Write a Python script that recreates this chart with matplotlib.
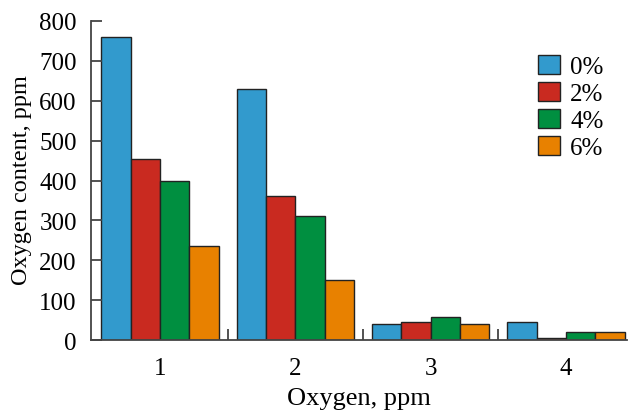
import matplotlib
matplotlib.use("Agg")
import matplotlib.pyplot as plt
import numpy as np

groups = ["1", "2", "3", "4"]
series_labels = ["0%", "2%", "4%", "6%"]
values = {
    "0%": [760, 630, 40, 45],
    "2%": [455, 360, 45, 6],
    "4%": [400, 310, 57, 20],
    "6%": [235, 150, 40, 20],
}
colors = ["#329acd", "#c92a20", "#008f40", "#e88100"]
yticks = [0, 100, 200, 300, 400, 500, 600, 700, 800]

plt.rcParams['font.family'] = ['Liberation Serif', 'DejaVu Serif']
fig = plt.figure(figsize=(6.3, 4.14), dpi=100)
ax = fig.add_axes([0.144, 0.176, 0.851, 0.771])

x = np.arange(1, len(groups) + 1)
w = 0.217
for i, lab in enumerate(series_labels):
    ax.bar(x + (i - 1.5) * w, values[lab], width=w, color=colors[i],
           edgecolor="#222222", linewidth=1.0, label=lab)

ax.set_xlim(0.487, 4.45)
ax.set_ylim(0, 800)
ax.set_yticks(yticks)
ax.set_xticks(x)
ax.set_xticklabels(groups)
ax.set_xticks([1.5, 2.5, 3.5], minor=True)
ax.tick_params(axis='x', which='major', length=0, labelsize=18, pad=12)
ax.tick_params(axis='x', which='minor', direction='in', length=8, width=1.3, color="#444444")
ax.tick_params(axis='y', direction='in', length=8, width=1.3, color="#444444", labelsize=18, pad=10)
for s in ["top", "right"]:
    ax.spines[s].set_visible(False)
for s in ["left", "bottom"]:
    ax.spines[s].set_color("#444444")
    ax.spines[s].set_linewidth(1.3)

ax.set_xlabel("Oxygen, ppm", fontsize=19, labelpad=6)
ax.set_ylabel("Oxygen content, ppm", fontsize=17.5, labelpad=4)
ax.yaxis.set_label_coords(-0.11, 0.505)

ax.legend(loc="upper right", bbox_to_anchor=(0.975, 0.925), frameon=False, fontsize=18,
          handlelength=0.88, handleheight=0.8, handletextpad=0.4, labelspacing=0.15,
          borderaxespad=0.0)

fig.savefig("out.png", dpi=100)
